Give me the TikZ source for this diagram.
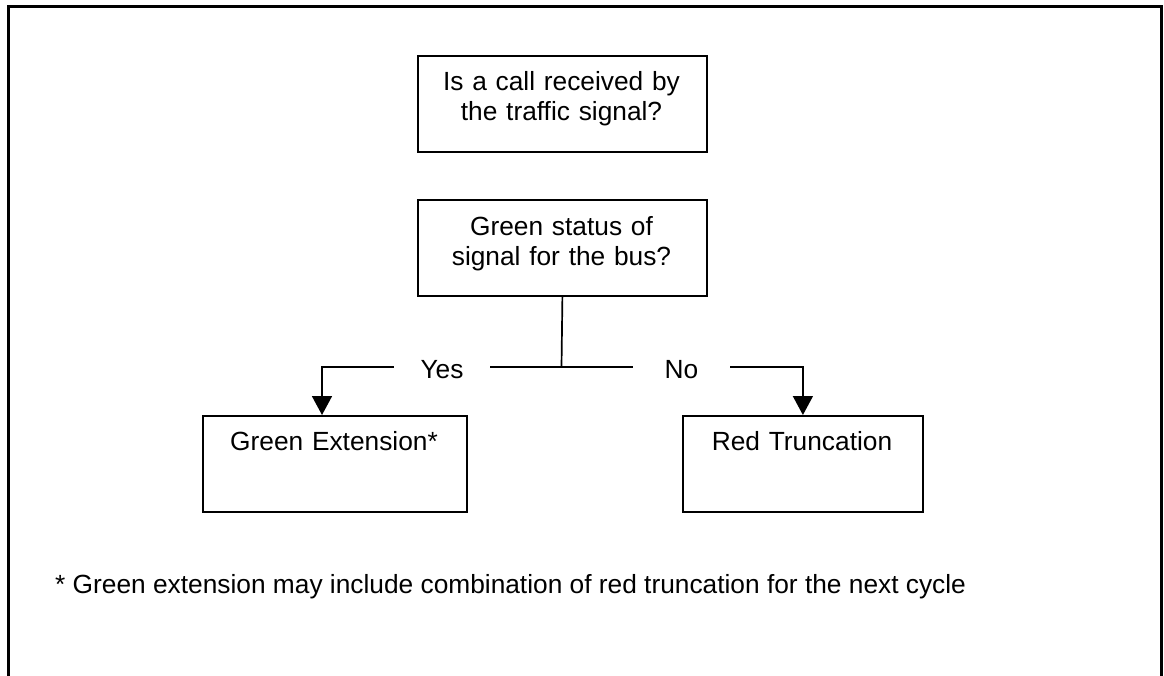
\documentclass[tikz,border=0pt]{standalone}
\usepackage{fontspec}
\setmainfont{Liberation Sans}
\usetikzlibrary{arrows.meta}
\begin{document}
\begin{tikzpicture}[x=1pt,y=-1pt,
  font=\fontsize{26.3}{30}\selectfont,
  frame/.style={line width=3pt},
  box/.style={draw, line width=1.8pt, inner sep=0pt, anchor=north west, minimum height=96pt},
  lbl/.style={text width=320pt, align=center, inner sep=0pt, anchor=base},
  branch/.style={inner sep=0pt, minimum width=96pt, text height=22pt, text depth=0pt},
  conn/.style={line width=1.7pt},
  arr/.style={conn, -{Triangle[width=20pt,length=19pt]}}]
\useasboundingbox (0,0) rectangle (1164,676);
% outer frame (open at the bottom)
\draw[frame] (8.5,676) -- (8.5,6.5) -- (1161.5,6.5) -- (1161.5,676);
% boxes
\node[box, minimum width=289pt] (q1) at (417,55) {};
\node[box, minimum width=289pt] (q2) at (417,199) {};
\node[box, minimum width=264pt] (green) at (202,415) {};
\node[box, minimum width=240pt] (red) at (682,415) {};
% box texts
\node[lbl] (t1) at (561.5,91) {Is a call received by\\the traffic signal?};
\node[lbl] (t2) at (561.5,235.5) {Green status of\\signal for the bus?};
\node[lbl] (t3) at (334,450) {Green Extension*};
\node[lbl] (t4) at (802,450) {Red Truncation};
% branch labels
\node[branch] (yes) at (442,367) {Yes};
\node[branch, minimum width=97pt] (no) at (681.5,367) {No};
\coordinate (fork) at (561.5,367);
\coordinate (gin) at (322,415);
% connectors
\draw[conn] (q2.south) -- (fork);
\draw[conn] (fork) -- (yes.east);
\draw[conn] (fork) -- (no.west);
\draw[arr] (yes.west) -| (gin);
\draw[arr] (no.east) -| (red.north);
% footnote
\node[inner sep=0pt, anchor=base west] (note) at (55,593) {* Green extension may include combination of red truncation for the next cycle};
\end{tikzpicture}
\end{document}
